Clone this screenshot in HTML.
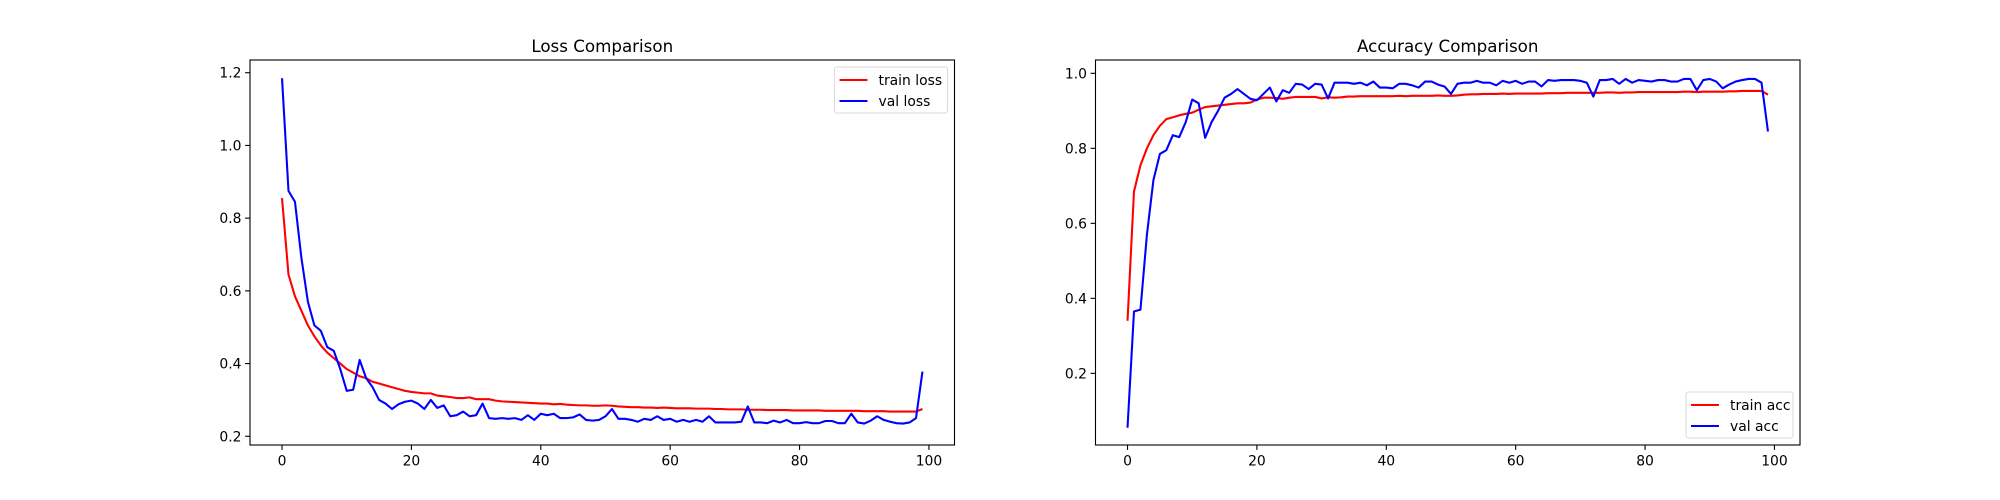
<!DOCTYPE html>
<html><head><meta charset="utf-8"><style>body{margin:0;background:#fff}svg{display:block;font-family:"DejaVu Sans","Liberation Sans",sans-serif}</style></head>
<body><svg id="fig" width="2000" height="500" viewBox="0 0 2000 500"></svg>
<script>
const epochs = Array.from({length:100},(_,i)=>i);
const trainLoss = [0.855,0.645,0.585,0.545,0.505,0.475,0.45,0.43,0.415,0.40,0.385,0.375,0.365,0.36,0.35,0.345,0.34,0.335,0.33,0.325,0.322,0.32,0.318,0.318,0.312,0.31,0.308,0.305,0.305,0.307,0.302,0.302,0.302,0.298,0.296,0.295,0.294,0.293,0.292,0.291,0.29,0.29,0.288,0.289,0.287,0.286,0.285,0.285,0.284,0.284,0.285,0.284,0.282,0.281,0.28,0.28,0.279,0.279,0.278,0.279,0.278,0.277,0.277,0.277,0.276,0.276,0.276,0.275,0.275,0.274,0.274,0.274,0.273,0.273,0.273,0.272,0.272,0.272,0.272,0.271,0.271,0.271,0.271,0.271,0.270,0.270,0.270,0.270,0.270,0.270,0.269,0.269,0.269,0.269,0.268,0.268,0.268,0.268,0.268,0.275];
const valLoss = [1.185,0.875,0.845,0.69,0.57,0.505,0.49,0.445,0.435,0.385,0.325,0.328,0.41,0.36,0.335,0.30,0.29,0.275,0.288,0.295,0.298,0.29,0.275,0.30,0.278,0.285,0.255,0.258,0.268,0.255,0.258,0.29,0.25,0.248,0.25,0.248,0.25,0.245,0.258,0.245,0.262,0.258,0.262,0.25,0.25,0.252,0.26,0.245,0.243,0.245,0.255,0.275,0.248,0.248,0.245,0.24,0.248,0.245,0.255,0.245,0.248,0.24,0.245,0.24,0.245,0.24,0.255,0.238,0.238,0.238,0.238,0.24,0.282,0.238,0.238,0.236,0.243,0.238,0.245,0.236,0.236,0.239,0.236,0.236,0.242,0.242,0.236,0.236,0.262,0.238,0.235,0.243,0.255,0.245,0.24,0.236,0.235,0.238,0.25,0.378];
const trainAcc = [0.34,0.685,0.755,0.80,0.835,0.86,0.878,0.883,0.888,0.892,0.895,0.903,0.91,0.912,0.914,0.916,0.918,0.92,0.92,0.922,0.93,0.935,0.935,0.934,0.932,0.935,0.937,0.937,0.937,0.937,0.933,0.936,0.935,0.936,0.938,0.938,0.939,0.939,0.939,0.939,0.939,0.939,0.940,0.939,0.940,0.940,0.940,0.940,0.941,0.940,0.940,0.941,0.943,0.944,0.944,0.945,0.945,0.945,0.946,0.945,0.946,0.946,0.946,0.946,0.946,0.947,0.947,0.947,0.948,0.948,0.948,0.948,0.948,0.948,0.949,0.949,0.948,0.949,0.949,0.950,0.950,0.950,0.950,0.950,0.950,0.950,0.951,0.951,0.950,0.951,0.951,0.951,0.951,0.952,0.952,0.953,0.953,0.953,0.953,0.943];
const valAcc = [0.055,0.365,0.37,0.57,0.715,0.785,0.795,0.835,0.83,0.87,0.93,0.92,0.828,0.87,0.9,0.935,0.945,0.958,0.945,0.932,0.928,0.945,0.962,0.925,0.955,0.948,0.972,0.97,0.958,0.972,0.97,0.933,0.975,0.975,0.975,0.972,0.975,0.968,0.978,0.962,0.962,0.96,0.972,0.972,0.968,0.962,0.978,0.978,0.97,0.965,0.945,0.972,0.975,0.975,0.98,0.975,0.975,0.968,0.98,0.975,0.98,0.972,0.978,0.978,0.965,0.982,0.98,0.982,0.982,0.982,0.98,0.975,0.938,0.982,0.982,0.985,0.972,0.985,0.975,0.982,0.98,0.978,0.982,0.982,0.978,0.978,0.985,0.985,0.955,0.982,0.985,0.978,0.96,0.97,0.978,0.982,0.985,0.985,0.975,0.845];
const xTicks = [0,20,40,60,80,100];
const lossTicks = [0.2,0.4,0.6,0.8,1.0,1.2];
const accTicks = [0.2,0.4,0.6,0.8,1.0];

const NS='http://www.w3.org/2000/svg';
const svg=document.getElementById('fig');
function mk(tag,attrs,parent){const e=document.createElementNS(NS,tag);for(const k in attrs)e.setAttribute(k,attrs[k]);(parent||svg).appendChild(e);return e;}

function panel(opt){
  const L=opt.left,R=opt.left+704.5,T=60,B=445;
  const g=mk('g',{});
  
  
  const xs=v=>L+(v-(-4.95))/(108.9)*(R-L);
  const ys=v=>B-(v-opt.ymin)/(opt.ymax-opt.ymin)*(B-T);
  opt.series.forEach(s=>{
    const p=mk('polyline',{points:s.data.map((v,i)=>xs(epochs[i]).toFixed(2)+','+ys(v).toFixed(2)).join(' '),fill:'none',stroke:s.color,'stroke-width':2.08,'stroke-linejoin':'round'},g);
    
    
  });
  const fr=mk('rect',{x:L,y:T,width:R-L,height:B-T,fill:'none',stroke:'#000','stroke-width':1.1},g);
  
  
  xTicks.forEach(t=>{
    const x=xs(t);
    mk('line',{x1:x,y1:B,x2:x,y2:B+4.9,stroke:'#000','stroke-width':1.1},g);
    const tx=mk('text',{x:x,y:B+20.5,'font-size':13.9,'text-anchor':'middle'},g);tx.textContent=t;
    
    
  });
  opt.yticks.forEach(t=>{
    const y=ys(t);
    mk('line',{x1:L,y1:y,x2:L-4.9,y2:y,stroke:'#000','stroke-width':1.1},g);
    const tx=mk('text',{x:L-8.5,y:y+5,'font-size':13.9,'text-anchor':'end'},g);tx.textContent=t.toFixed(1);
    
    
  });
  const ti=mk('text',{x:(L+R)/2,y:T-8,'font-size':16.7,'text-anchor':'middle'},g);ti.textContent=opt.title;
  
  
  const lg=mk('g',{},g);
  
  
  const lw=opt.legW,lh=46,lx=R-7-lw,ly=opt.legBottom?B-7-lh:T+7;
  mk('rect',{x:lx,y:ly,width:lw,height:lh,rx:2.5,fill:'#fff','fill-opacity':0.8,stroke:'#d9d9d9','stroke-width':1},lg);
  opt.series.forEach((s,i)=>{
    const y=ly+13+i*21;
    mk('line',{x1:lx+5,y1:y,x2:lx+33,y2:y,stroke:s.color,'stroke-width':2.08},lg);
    const t=mk('text',{x:lx+44,y:y+5,'font-size':13.9},lg);t.textContent=s.label;
    
    
  });
}
panel({name:'loss-chart',left:250,ymin:0.176,ymax:1.235,yticks:lossTicks,title:'Loss Comparison',legW:113,legBottom:false,
  series:[{name:'train-loss-line',label:'train loss',color:'#ff0000',data:trainLoss},{name:'val-loss-line',label:'val loss',color:'#0000ff',data:valLoss}]});
panel({name:'accuracy-chart',left:1095.5,ymin:0.009,ymax:1.0355,yticks:accTicks,title:'Accuracy Comparison',legW:107,legBottom:true,
  series:[{name:'train-acc-line',label:'train acc',color:'#ff0000',data:trainAcc},{name:'val-acc-line',label:'val acc',color:'#0000ff',data:valAcc}]});
</script></body></html>
